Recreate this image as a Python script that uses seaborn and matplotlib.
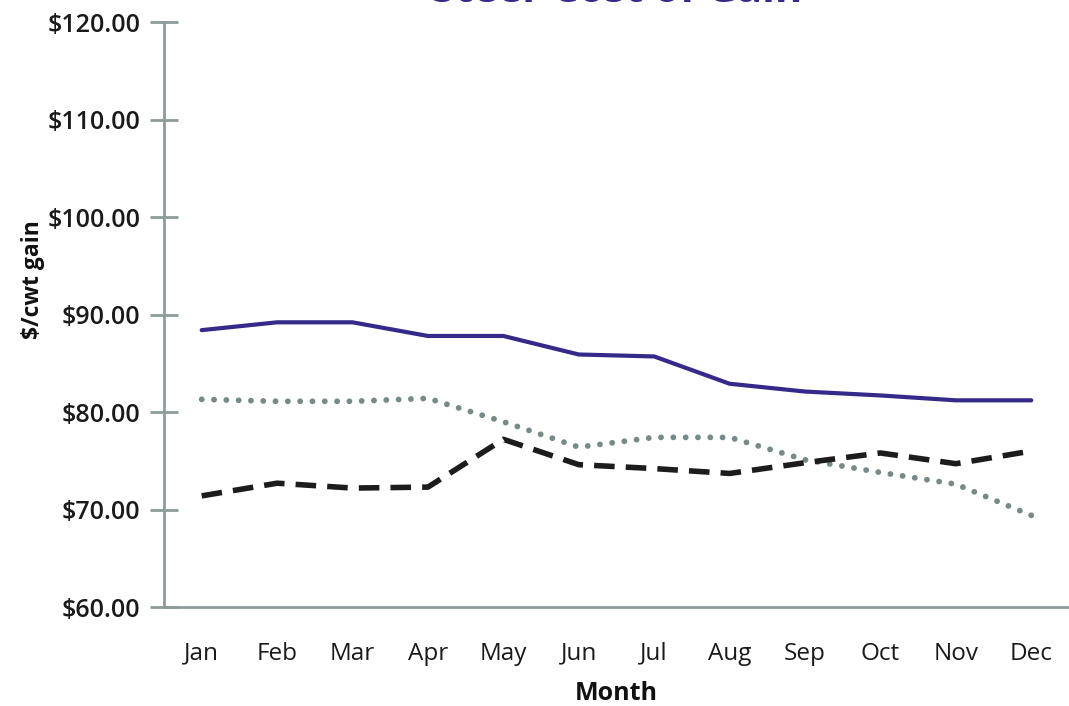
import matplotlib
matplotlib.use("Agg")
import matplotlib.pyplot as plt
import seaborn as sns
import pandas as pd
from matplotlib.ticker import FixedLocator, FuncFormatter

months = ["Jan", "Feb", "Mar", "Apr", "May", "Jun", "Jul", "Aug", "Sep", "Oct", "Nov", "Dec"]
series_a = [88.4, 89.2, 89.2, 87.8, 87.8, 85.9, 85.7, 82.9, 82.1, 81.7, 81.2, 81.2]   # solid purple
series_b = [81.3, 81.1, 81.1, 81.4, 79.0, 76.4, 77.4, 77.4, 75.1, 73.8, 72.6, 69.4]   # dotted gray
series_c = [71.4, 72.7, 72.2, 72.3, 77.2, 74.6, 74.2, 73.7, 74.8, 75.8, 74.7, 76.0]   # dashed black
y_ticks = [60, 70, 80, 90, 100, 110, 120]

sns.set_style("white")
plt.rcParams["font.family"] = ["Open Sans", "DejaVu Sans"]

fig = plt.figure(figsize=(10.69, 7.06), dpi=100)
ax = fig.add_axes([0.1534, 0.1402, 0.8466, 0.8286])

purple = "#35298a"
gray = "#768a8a"
black = "#1c1c1c"
axis_col = "#8d9b9b"

df = pd.DataFrame({"month": months, "a": series_a, "b": series_b, "c": series_c})
df["pos"] = range(len(months))

sns.lineplot(data=df, x="pos", y="a", ax=ax, color=purple, linewidth=3.0)
sns.lineplot(data=df, x="pos", y="b", ax=ax, color=gray, linewidth=4.2)
ax.lines[-1].set_linestyle((0, (0.01, 2.1)))
ax.lines[-1].set_dash_capstyle("round")
sns.lineplot(data=df, x="pos", y="c", ax=ax, color=black, linewidth=4.0)
ax.lines[-1].set_linestyle((0, (3.7, 2.0)))
ax.lines[-1].set_dash_capstyle("butt")

ax.set_xlim(-0.5, 11.5)
ax.set_ylim(60, 120)

for s in ["top", "right"]:
    ax.spines[s].set_visible(False)
for s in ["left", "bottom"]:
    ax.spines[s].set_color(axis_col)
    ax.spines[s].set_linewidth(2.0)

ax.yaxis.set_major_locator(FixedLocator(y_ticks))
ax.yaxis.set_major_formatter(FuncFormatter(lambda v, p: f"${v:.2f}"))
ax.tick_params(axis="y", which="major", direction="inout", length=20, width=2,
               color=axis_col, labelsize=18, labelcolor="#1a1a1a", pad=7)
for lab in ax.get_yticklabels():
    lab.set_fontweight("semibold")

ax.set_xticks(range(len(months)))
ax.set_xticklabels(months)
ax.set_xticks([i - 0.5 for i in range(len(months) + 1)], minor=True)
ax.tick_params(axis="x", which="major", length=0, labelsize=17.5, labelcolor="#1a1a1a", pad=25)
ax.tick_params(axis="x", which="minor", direction="inout", length=20, width=2, color=axis_col)
ax.tick_params(left=True, bottom=True)
for lab in ax.get_xticklabels():
    lab.set_fontweight("medium")

ax.set_xlabel("Month", fontsize=18, fontweight="bold", color="#111111", labelpad=11)
ax.set_ylabel("$/cwt gain", fontsize=16.5, fontweight="bold", color="#111111")
ax.yaxis.set_label_coords(-0.131, 0.56)

fig.text(0.577, 0.9965, "Steer Cost of Gain", ha="center", va="baseline",
         fontsize=30, fontweight="bold", color=purple)

fig.savefig("out.png", dpi=100)
